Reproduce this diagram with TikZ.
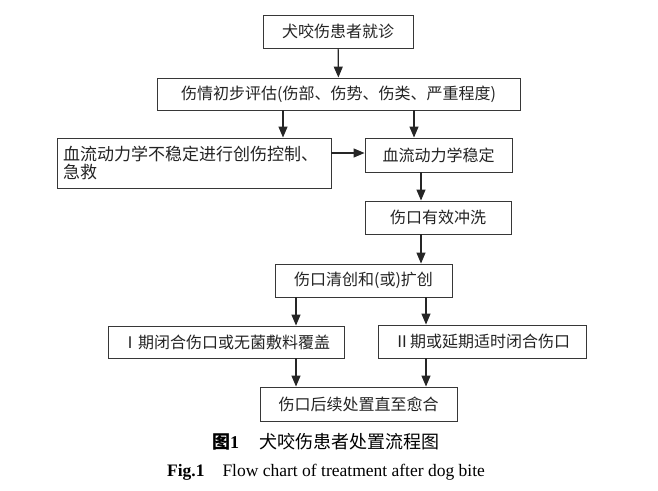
\documentclass[tikz,border=0pt]{standalone}
\usepackage{fontspec}
\setmainfont{Liberation Serif}
\newfontfamily\cjk{Noto Sans CJK SC}
\usepackage{tikz}
\usetikzlibrary{arrows.meta}
\definecolor{boxgray}{RGB}{55,55,55}
\definecolor{txtgray}{RGB}{35,35,35}

\begin{document}
\begin{tikzpicture}[x=1pt,y=-1pt,
  box/.style={draw=boxgray,line width=0.9pt,inner sep=0pt,minimum height=33pt,
    font=\cjk\fontsize{16}{18}\selectfont,text=txtgray},
  arr/.style={draw=black!85,line width=1.2pt,-{Triangle[length=11pt,width=9pt]}}]
\useasboundingbox (0,0) rectangle (658,490);
% boxes, top to bottom
\node[box,minimum width=150pt] (visit) at (338,31.5) {犬咬伤患者就诊};
\node[box,minimum width=363pt,minimum height=32pt] (assess) at (338.5,94) {伤情初步评估(伤部、伤势、伤类、严重程度)};
\node[box,minimum width=274pt,minimum height=50pt,text width=262pt,align=left,
  font=\cjk\fontsize{17}{18}\selectfont] (unstable) at (194,163)
  {血流动力学不稳定进行创伤控制、\\急救};
\node[box,minimum width=147pt,minimum height=34pt] (stable) at (438.5,155) {血流动力学稳定};
\node[box,minimum width=146pt] (wash) at (438,217.5) {伤口有效冲洗};
\node[box,minimum width=177pt] (debride) at (363.5,280.5) {伤口清创和(或)扩创};
\node[box,minimum width=236pt,minimum height=32pt] (close1) at (226,342) {Ⅰ期闭合伤口或无菌敷料覆盖};
\node[box,minimum width=208pt] (close2) at (482,341.5) {Ⅱ期或延期适时闭合伤口};
\node[box,minimum width=197pt,minimum height=34pt] (heal) at (358.5,404) {伤口后续处置直至愈合};
% captions
\node[font=\fontsize{18}{20}\selectfont] (cap1) at (325.5,442)
  {{\cjk\bfseries 图}{\bfseries 1}\hspace{20pt}{\cjk 犬咬伤患者处置流程图}};
\node[font=\fontsize{17.5}{20}\selectfont] (cap2) at (326,472)
  {{\bfseries Fig.1}\hspace{18pt}Flow chart of treatment after dog bite};
% arrows
\draw[arr] (visit) -- (assess);
\draw[arr] (assess.south -| 283,0) -- (unstable.north -| 283,0);
\draw[arr] (assess.south -| 414,0) -- (stable.north -| 414,0);
\draw[arr] (unstable.east |- 0,153) -- (stable.west |- 0,153);
\draw[arr] (stable.south -| 421,0) -- (wash.north -| 421,0);
\draw[arr] (wash.south -| 421,0) -- (debride.north -| 421,0);
\draw[arr] (debride.south -| 296,0) -- (close1.north -| 296,0);
\draw[arr] (debride.south -| 426,0) -- (close2.north -| 426,0);
\draw[arr] (close1.south -| 296,0) -- (heal.north -| 296,0);
\draw[arr] (close2.south -| 426,0) -- (heal.north -| 426,0);
\end{tikzpicture}
\end{document}
